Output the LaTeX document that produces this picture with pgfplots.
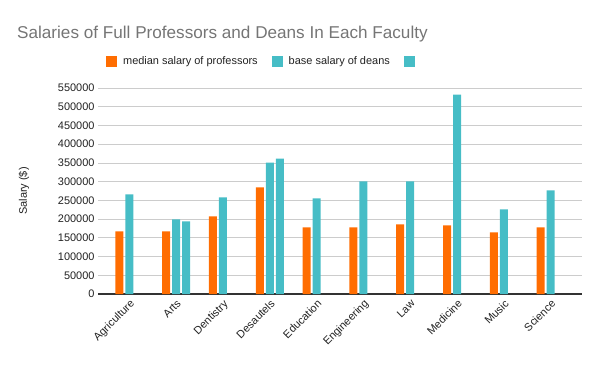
\documentclass[border=0pt]{standalone}
\usepackage{fontspec}
\setmainfont{Liberation Sans}
\usepackage{pgfplots}
\pgfplotsset{compat=1.18}
\definecolor{cOrange}{HTML}{FF6D01}
\definecolor{cTeal}{HTML}{46BDC6}
\definecolor{cTitle}{HTML}{757575}
\definecolor{cText}{HTML}{222222}
\definecolor{cGrid}{HTML}{CCCCCC}
\definecolor{cAxis}{HTML}{333333}
\begin{document}
\begin{tikzpicture}[x=1bp,y=1bp]
\useasboundingbox (0,0) rectangle (600,371);
\node[anchor=base west, font=\fontsize{17.2}{21}\selectfont, text=cTitle, inner sep=0] at (17,333) {Salaries of Full Professors and Deans In Each Faculty};
\begin{axis}[
  at={(98bp,77bp)}, anchor=south west,
  scale only axis, width=484bp, height=206bp,
  xmin=-0.67, xmax=9.67, ymin=0, ymax=550000,
  ytick={0,50000,...,550000},
  scaled y ticks=false,
  /pgf/number format/assume math mode=true,
  yticklabel style={/pgf/number format/fixed,/pgf/number format/1000 sep={}, font=\fontsize{11}{13}\selectfont, text=cText},
  xtick={0,...,9},
  xticklabels={Agriculture,Arts,Dentistry,Desautels,Education,Engineering,Law,Medicine,Music,Science},
  xticklabel style={rotate=45, anchor=north east, font=\fontsize{11}{13}\selectfont, text=cText},
  major tick length=0pt,
  ymajorgrids, grid style={cGrid, line width=0.8bp},
  axis x line*=bottom, axis y line*=left,
  x axis line style={cAxis, line width=1.2bp, -},
  y axis line style={draw=none},
  ylabel={Salary (\$)},
  ylabel style={at={(axis description cs:-0.153,0.5)}, anchor=center, font=\fontsize{11}{13}\selectfont, text=cText},
  ybar, bar width=0.171,
  legend columns=3,
  legend style={at={(axis description cs:0.344,1.131)}, anchor=center, draw=none, fill=none,
    font=\fontsize{11}{13}\selectfont, text=cText,
    /tikz/every odd column/.append style={column sep=4bp},
    /tikz/every even column/.append style={column sep=12bp}},
  legend image code/.code={\fill[#1] (0bp,-5.5bp) rectangle (11bp,5.5bp);},
]
\addplot[fill=cOrange, draw=none, bar shift=-0.214] coordinates {
(0,167000) (1,167000) (2,207000) (3,284500) (4,177700) (5,177700) (6,185700) (7,183000) (8,164400) (9,177700)};
\addlegendentry{median salary of professors}
\addplot[fill=cTeal, draw=none, bar shift=0] coordinates {
(0,265800) (1,199000) (2,257700) (3,351000) (4,255000) (5,300400) (6,300400) (7,532300) (8,225700) (9,276400)};
\addlegendentry{base salary of deans}
\addplot[fill=cTeal, draw=none, bar shift=0.214] coordinates {
(1,193800) (3,361700)};
\addlegendentry{\mbox{}}
\end{axis}
\end{tikzpicture}
\end{document}
